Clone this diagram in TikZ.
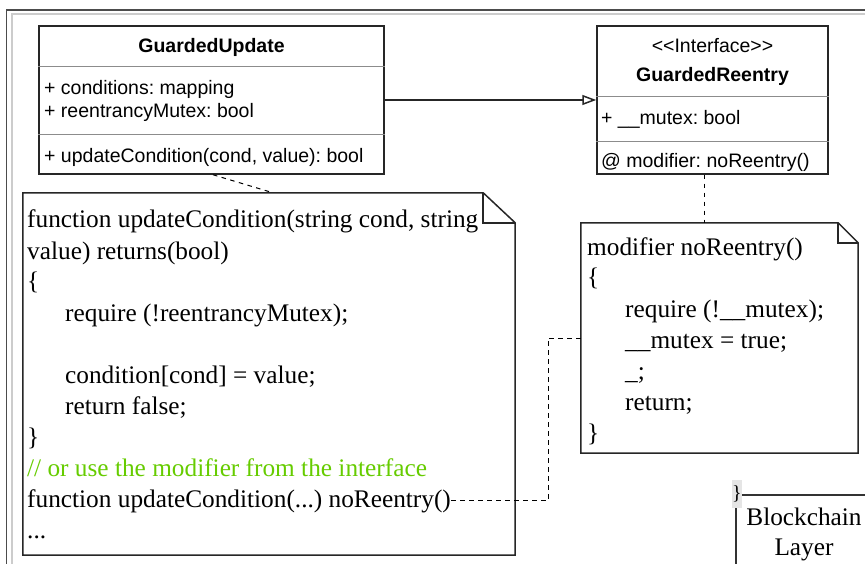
\documentclass[tikz,border=0pt]{standalone}
\usepackage{fontspec}
\setmainfont{Liberation Serif}
\setsansfont{Liberation Sans}
\usetikzlibrary{arrows.meta,calc}
\definecolor{cmtgreen}{HTML}{66CC00}
\frenchspacing
\begin{document}
\begin{tikzpicture}[x=1pt,y=-1pt,
  umlbox/.style={draw=black!85, line width=1.5pt, inner sep=0pt},
  sepline/.style={draw=black!45, line width=1pt},
  sanstxt/.style={font=\sffamily\fontsize{19.5}{23}\selectfont, inner sep=0pt},
  sansbold/.style={font=\sffamily\bfseries\fontsize{19.5}{23}\selectfont, inner sep=0pt},
  code/.style={font=\rmfamily\fontsize{25.3}{31}\selectfont, inner sep=0pt, anchor=base west},
  notebox/.style={inner sep=0pt},
  noteline/.style={draw=black!85, line width=1.5pt, line join=miter},
  conn/.style={line width=1pt, dash pattern=on 4.5pt off 4.5pt},
  inherit/.style={line width=1.5pt, draw=black!85, -{Triangle[open,length=14pt,width=10pt]}}
]
\path[use as bounding box] (0,0) rectangle (865,564);
\clip (0,0) rectangle (865,564);
\fill[white] (0,0) rectangle (865,564);

% outer frame
\draw[black!70, line width=1.5pt] (6.5,570) -- (6.5,10) -- (870,10);
\draw[black!20, line width=2pt] (11.5,570) -- (11.5,14.5) -- (870,14.5);

% GuardedUpdate class
\node[umlbox, minimum width=345pt, minimum height=148pt] (gu) at (211.5,100) {};
\draw[sepline] (gu.west |- 0,67) -- (gu.east |- 0,67);
\draw[sepline] (gu.west |- 0,135) -- (gu.east |- 0,135);
\node[sansbold, anchor=base] (gut) at (211.5,53) {GuardedUpdate};
\node[sanstxt, anchor=base west] (gua1) at (44,95) {+ conditions: mapping};
\node[sanstxt, anchor=base west] (gua2) at (44,118) {+ reentrancyMutex: bool};
\node[sanstxt, anchor=base west] (gum1) at (44,163) {+ updateCondition(cond, value): bool};

% GuardedReentry interface
\node[umlbox, minimum width=231pt, minimum height=148pt] (gr) at (712.5,100) {};
\draw[sepline] (gr.west |- 0,97) -- (gr.east |- 0,97);
\draw[sepline] (gr.west |- 0,142) -- (gr.east |- 0,142);
\node[sanstxt, anchor=base] (grs) at (712.5,53) {<\kern0pt<Interface>\kern0pt>};
\node[sansbold, anchor=base] (grt) at (712.5,82) {GuardedReentry};
\node[sanstxt, anchor=base west] (gra1) at (601,125) {+ \_\_mutex: bool};
\node[sanstxt, anchor=base west] (grm1) at (601,168) {@ modifier: noReentry()};

% inheritance arrow
\draw[inherit] (gu.east) -- (gr.west);

% big note
\node[notebox, minimum width=492pt, minimum height=362pt] (note) at (269,374) {};
\draw[noteline, fill=white] (note.north west) -- ([xshift=-32pt]note.north east) -- ([yshift=-30pt]note.north east) -- (note.south east) -- (note.south west) -- cycle;
\draw[noteline] ([xshift=-32pt]note.north east) -- ([xshift=-32pt,yshift=-30pt]note.north east) -- ([yshift=-30pt]note.north east);
\node[code] (l1) at (27,228) {function updateCondition(string cond, string};
\node[code] (l2) at (27,259) {value) returns(bool)};
\node[code] (l3) at (27,290) {\{};
\node[code] (l4) at (65,321) {require (!reentrancyMutex);};
\node[code] (l5) at (65,383) {condition[cond] = value;};
\node[code] (l6) at (65,414) {return false;};
\node[code] (l7) at (27,445) {\}};
\node[code, text=cmtgreen] (l8) at (27,476) {// or use the modifier from the interface};
\node[code] (l9) at (27,507) {function updateCondition(...) noReentry()};
\node[code] (l10) at (27,538) {...};

% small note
\node[notebox, minimum width=277pt, minimum height=230pt] (sn) at (719.5,338) {};
\draw[noteline, fill=white] (sn.north west) -- ([xshift=-20pt]sn.north east) -- ([yshift=-20pt]sn.north east) -- (sn.south east) -- (sn.south west) -- cycle;
\draw[noteline] ([xshift=-20pt]sn.north east) -- ([xshift=-20pt,yshift=-20pt]sn.north east) -- ([yshift=-20pt]sn.north east);
\node[code] (m1) at (587,255) {modifier noReentry()};
\node[code] (m2) at (587,286) {\{};
\node[code] (m3) at (625,317) {require (!\_\_mutex);};
\node[code] (m4) at (625,348) {\_\_mutex = true;};
\node[code] (m5) at (625,379) {\_;};
\node[code] (m6) at (625,410) {return;};
\node[code] (m7) at (587,441) {\}};

% dashed connectors
\draw[conn] ([xshift=1.5pt]gu.south) -- ([xshift=4pt]note.north);
\coordinate (grc) at ([xshift=-8pt]gr.south);
\draw[conn] (grc) -- (grc |- sn.north);
\coordinate (bend) at (548,420);
\draw[conn] (l9.east) -| (bend) |- (sn.west);

% blockchain layer (partially visible)
\draw[black!80, line width=2pt] (736,570) -- (736,495) -- (870,495);
\node[code, anchor=base] (bc1) at (804,525) {Blockchain};
\node[code, anchor=base] (bc2) at (804,555) {Layer};
\node[fill=black!10, inner sep=0pt, minimum width=8pt, minimum height=28pt, font=\rmfamily\fontsize{20}{20}\selectfont] (brc) at (737,494) {\}};
\end{tikzpicture}
\end{document}
